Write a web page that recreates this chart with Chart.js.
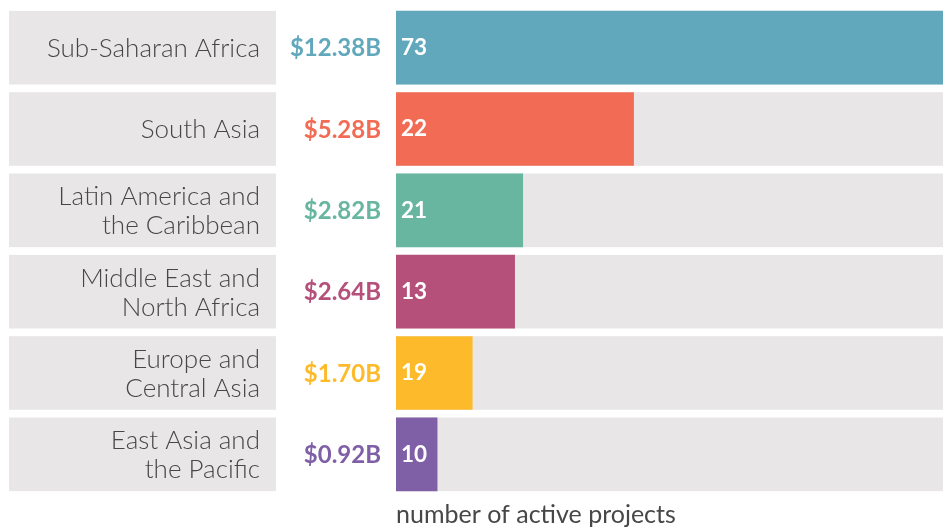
<!DOCTYPE html>
<html>
<head>
<meta charset="utf-8">
<script src="https://cdn.jsdelivr.net/npm/chart.js@4/dist/chart.umd.min.js"></script>
<style>
  html, body { margin: 0; padding: 0; background: #ffffff; }
  #wrap { width: 943px; height: 527px; }
</style>
</head>
<body>
<div id="wrap"><canvas id="c" width="943" height="527"></canvas></div>
<script>
// ---- data ----
const regions = [
  ["Sub-Saharan Africa"],
  ["South Asia"],
  ["Latin America and", "the Caribbean"],
  ["Middle East and", "North Africa"],
  ["Europe and", "Central Asia"],
  ["East Asia and", "the Pacific"]
];
const fundingBillions = [12.38, 5.28, 2.82, 2.64, 1.70, 0.92];
const fundingLabels = ["$12.38B", "$5.28B", "$2.82B", "$2.64B", "$1.70B", "$0.92B"];
const activeProjects = [73, 22, 21, 13, 19, 10];
const regionColors = ["#61a8bd", "#f26b55", "#68b6a0", "#b5507b", "#fdbb2c", "#7f5fa5"];
const axisMax = 12.14;
const axisTitle = "number of active projects";

// ---- styling ----
const trackColor = "#e8e6e7";
const textColor = "#474747";
const fontFamily = "Lato, 'Open Sans', sans-serif";

const decorPlugin = {
  id: 'decor',
  beforeDatasetsDraw(chart) {
    const ctx = chart.ctx;
    const meta = chart.getDatasetMeta(0);
    const area = chart.chartArea;
    ctx.save();
    meta.data.forEach((bar, i) => {
      const h = bar.height;
      const top = bar.y - h / 2;
      ctx.fillStyle = trackColor;
      ctx.fillRect(area.left, top, area.right - area.left, h);
      ctx.fillRect(9, top, 267, h);
    });
    ctx.restore();
  },
  afterDatasetsDraw(chart) {
    const ctx = chart.ctx;
    const meta = chart.getDatasetMeta(0);
    const area = chart.chartArea;
    ctx.save();
    ctx.textBaseline = 'middle';
    meta.data.forEach((bar, i) => {
      const cy = bar.y;
      ctx.font = "300 26px " + fontFamily;
      ctx.fillStyle = textColor;
      ctx.textAlign = 'right';
      const lines = regions[i];
      const lh = 29;
      lines.forEach((ln, k) => {
        ctx.fillText(ln, 260, cy + 1 + (k - (lines.length - 1) / 2) * lh);
      });
      ctx.font = "700 24px " + fontFamily;
      ctx.fillStyle = regionColors[i];
      ctx.textAlign = 'right';
      ctx.fillText(fundingLabels[i], 381, cy + 1);
      ctx.font = "700 22.5px " + fontFamily;
      ctx.fillStyle = "#ffffff";
      ctx.textAlign = 'left';
      ctx.fillText(String(activeProjects[i]), area.left + 5, cy);
    });
    ctx.restore();
  }
};

new Chart(document.getElementById('c'), {
  type: 'bar',
  data: {
    labels: regions,
    datasets: [{
      data: fundingBillions,
      backgroundColor: regionColors,
      borderWidth: 0,
      categoryPercentage: 1.0,
      barPercentage: 0.905
    }]
  },
  options: {
    indexAxis: 'y',
    responsive: false,
    animation: false,
    layout: { padding: { left: 396, right: 0, top: 7, bottom: 0 } },
    plugins: { legend: { display: false }, tooltip: { enabled: false } },
    scales: {
      x: {
        min: 0,
        max: axisMax,
        ticks: { display: false },
        grid: { display: false, drawTicks: false },
        border: { display: false },
        title: {
          display: true,
          text: axisTitle,
          align: 'start',
          color: textColor,
          font: { family: fontFamily, size: 25, weight: '400', lineHeight: 1.0 },
          padding: { top: 7, bottom: 0 }
        }
      },
      y: {
        display: false
      }
    }
  },
  plugins: [decorPlugin]
});
</script>
</body>
</html>
